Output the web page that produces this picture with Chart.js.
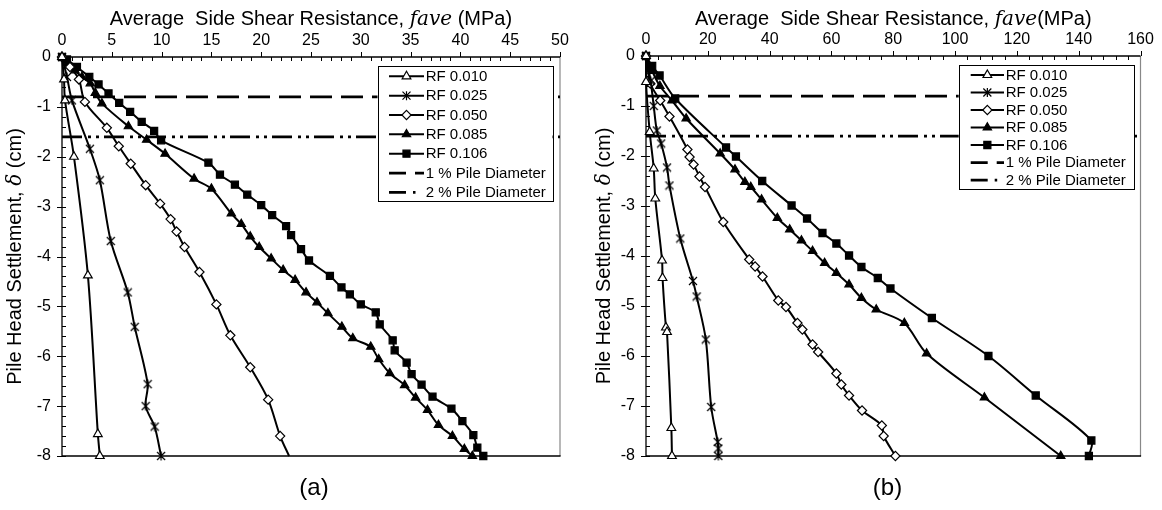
<!DOCTYPE html>
<html><head><meta charset="utf-8">
<script src="https://cdn.jsdelivr.net/npm/chart.js@4.4.1/dist/chart.umd.min.js"></script>
<style>
html,body{margin:0;padding:0;background:#fff;}
#wrap{position:relative;width:1162px;height:510px;overflow:hidden;background:#fff;}
canvas{position:absolute;top:0;}
</style></head><body>
<div id="wrap">
<canvas id="ca" width="580" height="510" style="left:0px"></canvas>
<canvas id="cb" width="582" height="510" style="left:580px"></canvas>
</div>
<script>
// ---------- DATA : chart (a) ----------
const rf010A_x = [0, 0.2, 0.3, 1.2, 2.6, 3.6, 3.8];
const rf010A_y = [0, -0.45, -0.87, -2.0, -4.38, -7.56, -8.0];
const rf025A_x = [0, 0.5, 1.0, 2.8, 3.8, 4.9, 6.6, 7.3, 8.6, 8.4, 9.3, 9.95];
const rf025A_y = [0, -0.4, -0.87, -1.84, -2.47, -3.69, -4.72, -5.41, -6.56, -7.0, -7.41, -8.0];
const rf050A_x = [0, 0.8, 1.7, 2.3, 4.5, 5.7, 6.9, 8.4, 9.85, 10.9, 11.5, 12.3, 13.8, 15.5, 16.9, 18.9, 20.7, 21.9, 22.8];
const rf050A_y = [0, -0.2, -0.45, -0.9, -1.42, -1.79, -2.14, -2.57, -2.94, -3.25, -3.5, -3.81, -4.31, -4.96, -5.58, -6.22, -6.87, -7.6, -8.0];
const rf085A_x = [0, 0.6, 1.3, 2.0, 2.84, 3.34, 4.0, 6.67, 8.5, 10.35, 13.26, 15.0, 17.0, 18.0, 18.9, 19.8, 21.0, 22.2, 23.4, 24.5, 25.6, 26.7, 28.1, 29.2, 31.0, 31.8, 32.9, 34.4, 35.5, 36.7, 37.8, 39.2, 40.4, 41.2];
const rf085A_y = [0, -0.12, -0.27, -0.4, -0.53, -0.72, -0.93, -1.39, -1.66, -1.94, -2.44, -2.64, -3.14, -3.35, -3.6, -3.81, -4.04, -4.27, -4.47, -4.72, -4.92, -5.14, -5.41, -5.64, -5.81, -6.06, -6.34, -6.58, -6.83, -7.08, -7.38, -7.6, -7.86, -8.0];
const rf106A_x = [0, 0.5, 1.5, 2.74, 3.67, 4.67, 5.74, 6.84, 8.0, 9.25, 9.95, 14.7, 15.86, 17.36, 18.6, 20.0, 21.1, 22.5, 23.0, 24.0, 24.8, 26.9, 28.06, 28.9, 30.0, 31.5, 31.9, 33.2, 33.4, 34.6, 35.1, 36.1, 37.2, 39.1, 40.2, 41.3, 41.7, 42.3];
const rf106A_y = [0, -0.05, -0.2, -0.4, -0.55, -0.73, -0.92, -1.1, -1.3, -1.48, -1.67, -2.12, -2.36, -2.56, -2.76, -2.97, -3.17, -3.39, -3.57, -3.85, -4.08, -4.39, -4.62, -4.76, -4.96, -5.12, -5.36, -5.68, -5.88, -6.13, -6.36, -6.57, -6.81, -7.05, -7.3, -7.58, -7.83, -8.0];

// ---------- DATA : chart (b) ----------
const rf010B_x = [0, 0, 1.2, 2.5, 3.0, 5.2, 5.35, 6.45, 6.8, 8.2, 8.4];
const rf010B_y = [0, -0.52, -1.52, -2.25, -2.85, -4.09, -4.44, -5.43, -5.52, -7.44, -8.0];
const rf025B_x = [0, 1.5, 2.5, 3.5, 4.9, 6.8, 7.6, 11.1, 15.2, 16.4, 19.35, 21.1, 23.2, 23.4, 23.4];
const rf025B_y = [0, -0.5, -1.0, -1.49, -1.75, -2.23, -2.59, -3.65, -4.5, -4.81, -5.67, -7.02, -7.72, -7.85, -8.0];
const rf050B_x = [0, 1.4, 4.6, 7.6, 13.4, 14.1, 15.4, 17.3, 19.1, 25.0, 33.4, 35.3, 37.7, 42.8, 45.3, 49.0, 50.6, 53.9, 55.7, 61.6, 63.2, 65.7, 69.9, 76.3, 76.9, 80.7];
const rf050B_y = [0, -0.55, -0.89, -1.21, -1.87, -2.02, -2.17, -2.41, -2.62, -3.32, -4.07, -4.21, -4.41, -4.89, -5.02, -5.34, -5.47, -5.77, -5.92, -6.35, -6.57, -6.79, -7.09, -7.39, -7.6, -8.0];
const rf085B_x = [0, 2, 4.5, 8.4, 13.0, 24.0, 28.8, 32.0, 33.9, 37.4, 42.5, 46.5, 50.3, 53.9, 57.8, 61.6, 65.7, 69.7, 74.5, 83.6, 90.8, 109.5, 134.2];
const rf085B_y = [0, -0.3, -0.6, -0.89, -1.25, -1.95, -2.27, -2.52, -2.62, -2.87, -3.24, -3.47, -3.69, -3.9, -4.14, -4.34, -4.57, -4.84, -5.07, -5.34, -5.95, -6.83, -8.0];
const rf106B_x = [0, 2, 4.4, 9.45, 25.9, 29.1, 37.6, 47.1, 52.1, 57.1, 61.6, 65.7, 69.7, 75.0, 79.1, 92.5, 110.8, 126.1, 144.1, 143.3];
const rf106B_y = [0, -0.2, -0.39, -0.85, -1.83, -2.01, -2.5, -2.99, -3.25, -3.54, -3.75, -3.99, -4.22, -4.44, -4.65, -5.24, -6.0, -6.79, -7.69, -8.0];

// ---------- labels / ticks ----------
const seriesNames = ['RF 0.010', 'RF 0.025', 'RF 0.050', 'RF 0.085', 'RF 0.106'];
const refLineNames = ['1 % Pile Diameter', '2 % Pile Diameter'];
const refLineDepths = [-0.8, -1.6];
const xTicksA = [0, 5, 10, 15, 20, 25, 30, 35, 40, 45, 50];
const xTicksB = [0, 20, 40, 60, 80, 100, 120, 140, 160];
const yTicks = [0, -1, -2, -3, -4, -5, -6, -7, -8];
const xTitleA = ['Average  Side Shear Resistance, ', 'fave', ' (MPa)'];
const xTitleB = ['Average  Side Shear Resistance, ', 'fave', '(MPa)'];
const yTitle = ['Pile Head Settlement, ', 'δ', ' (cm)'];
const panelLabels = ['(a)', '(b)'];

// ---------- styling ----------
const SANS = "'Liberation Sans', Arial, sans-serif";
const SERIF_IT = "'DejaVu Serif', 'Liberation Serif', serif";

function asteriskCanvas(size) {
  const c = document.createElement('canvas');
  c.width = size; c.height = size;
  const g = c.getContext('2d');
  g.strokeStyle = '#000'; g.lineWidth = 1.2;
  const a = 1, b = size - 1, m = size / 2;
  g.beginPath();
  g.moveTo(a, a); g.lineTo(b, b);
  g.moveTo(b, a); g.lineTo(a, b);
  g.moveTo(m, 0.5); g.lineTo(m, size - 0.5);
  g.stroke();
  return c;
}
const astImg = asteriskCanvas(10);

const markerStyles = [
  {kind: 'tri', ps: 'triangle', r: 5, fill: '#fff'},
  {kind: 'ast', ps: astImg, r: 5, fill: '#000'},
  {kind: 'dia', ps: 'rectRot', r: 4.6, fill: '#fff'},
  {kind: 'tri', ps: 'triangle', r: 4.8, fill: '#000'},
  {kind: 'sq', ps: 'rect', r: 5, fill: '#000'}
];
const refDashes = [[22, 9], [20, 6, 3, 5, 3, 5]];

function drawMarker(ctx, st, x, y) {
  ctx.save();
  ctx.lineWidth = 1.2; ctx.strokeStyle = '#000'; ctx.fillStyle = st.fill;
  const r = st.r;
  ctx.beginPath();
  if (st.kind === 'tri') {
    ctx.moveTo(x, y - r); ctx.lineTo(x + r * 0.866, y + r * 0.5); ctx.lineTo(x - r * 0.866, y + r * 0.5); ctx.closePath();
    ctx.fill(); ctx.stroke();
  } else if (st.kind === 'dia') {
    ctx.moveTo(x, y - r); ctx.lineTo(x + r, y); ctx.lineTo(x, y + r); ctx.lineTo(x - r, y); ctx.closePath();
    ctx.fill(); ctx.stroke();
  } else if (st.kind === 'sq') {
    const s = r * Math.SQRT1_2;
    ctx.rect(x - s, y - s, 2 * s, 2 * s); ctx.fill(); ctx.stroke();
  } else {
    const s = 4;
    ctx.moveTo(x - s, y - s); ctx.lineTo(x + s, y + s);
    ctx.moveTo(x + s, y - s); ctx.lineTo(x - s, y + s);
    ctx.moveTo(x, y - s - 0.5); ctx.lineTo(x, y + s + 0.5);
    ctx.stroke();
  }
  ctx.restore();
}

function drawRuns(ctx, parts, fonts, cx, cy) {
  let total = 0; const ws = [];
  parts.forEach((p, i) => { ctx.font = fonts[i]; const w = ctx.measureText(p).width; ws.push(w); total += w; });
  let x = cx - total / 2;
  ctx.textBaseline = 'alphabetic'; ctx.textAlign = 'left';
  parts.forEach((p, i) => { ctx.font = fonts[i]; ctx.fillText(p, x, cy); x += ws[i]; });
}

const decorPlugin = {
  id: 'decor',
  beforeDatasetsDraw(chart) {
    const o = chart.options.plugins.decor;
    const ctx = chart.ctx;
    const {left, right, top, bottom} = chart.chartArea;
    const xs = chart.scales.x, ys = chart.scales.y;
    ctx.save();
    ctx.strokeStyle = '#888'; ctx.lineWidth = 1.2;
    ctx.beginPath(); ctx.moveTo(right, top); ctx.lineTo(right, bottom); ctx.stroke();
    ctx.strokeStyle = '#000'; ctx.lineWidth = 1.3;
    ctx.beginPath();
    ctx.moveTo(left, top); ctx.lineTo(right, top);
    ctx.moveTo(left, top); ctx.lineTo(left, bottom);
    ctx.moveTo(left, bottom); ctx.lineTo(right + 0.6, bottom);
    ctx.stroke();
    ctx.lineWidth = 1;
    ctx.beginPath();
    const nX = Math.round((o.xMax - o.xMin) / o.xMinor);
    for (let i = 0; i <= nX; i++) {
      const v = o.xMin + i * o.xMinor;
      const px = Math.round(xs.getPixelForValue(v)) + 0.5;
      if (i % o.xPerMajor === 0) { ctx.moveTo(px, top - 5); ctx.lineTo(px, top); }
      else { ctx.moveTo(px, top); ctx.lineTo(px, top + 4); }
    }
    const nY = 40;
    for (let i = 0; i <= nY; i++) {
      const v = -i * 0.2;
      const py = Math.round(ys.getPixelForValue(v)) + 0.5;
      if (i % 5 === 0) { ctx.moveTo(left - 5, py); ctx.lineTo(left + 4, py); }
      else { ctx.moveTo(left, py); ctx.lineTo(left + 4, py); }
    }
    ctx.stroke();
    ctx.restore();
  },
  afterDraw(chart) {
    const o = chart.options.plugins.decor;
    const ctx = chart.ctx;
    const {left, right, top, bottom} = chart.chartArea;
    ctx.save();
    ctx.fillStyle = '#000';
    drawRuns(ctx, o.xTitle, ['20px ' + SANS, 'italic 20px ' + SERIF_IT, '20px ' + SANS], (left + right) / 2, 25);
    ctx.save();
    ctx.translate(o.yTitleX, (top + bottom) / 2);
    ctx.rotate(-Math.PI / 2);
    drawRuns(ctx, yTitle, ['20px ' + SANS, 'italic 20px ' + SERIF_IT, '20px ' + SANS], 0, 7);
    ctx.restore();
    ctx.font = '24px ' + SANS; ctx.textAlign = 'center'; ctx.textBaseline = 'middle';
    ctx.fillText(o.panel, o.panelX, 488);
    const L = o.legend;
    ctx.fillStyle = '#fff';
    ctx.fillRect(L.x0, L.y0, L.x1 - L.x0, L.y1 - L.y0);
    ctx.strokeStyle = '#000'; ctx.lineWidth = 1;
    ctx.strokeRect(Math.round(L.x0) + 0.5, Math.round(L.y0) + 0.5, Math.round(L.x1 - L.x0), Math.round(L.y1 - L.y0));
    const names = seriesNames.concat(refLineNames);
    ctx.font = '15px ' + SANS; ctx.textAlign = 'left'; ctx.textBaseline = 'middle';
    names.forEach((nm, i) => {
      const y = L.row0 + i * L.rowH;
      ctx.strokeStyle = '#000'; ctx.setLineDash([]);
      if (i < 5) {
        ctx.lineWidth = 2;
        ctx.beginPath(); ctx.moveTo(L.sx0, y); ctx.lineTo(L.sx1, y); ctx.stroke();
        drawMarker(ctx, markerStyles[i], (L.sx0 + L.sx1) / 2, y);
      } else if (i === 5) {
        ctx.lineWidth = 2.75;
        ctx.beginPath(); ctx.moveTo(L.sx0, y); ctx.lineTo(L.sx0 + 17, y);
        ctx.moveTo(L.sx0 + 26, y); ctx.lineTo(L.sx1, y); ctx.stroke();
      } else {
        ctx.lineWidth = 2.75;
        ctx.beginPath(); ctx.moveTo(L.sx0, y); ctx.lineTo(L.sx0 + 17, y);
        ctx.moveTo(L.sx0 + 24, y); ctx.lineTo(L.sx0 + 26.5, y); ctx.stroke();
      }
      ctx.fillStyle = '#000';
      ctx.fillText(nm, L.tx, y + 0.5);
    });
    ctx.restore();
  }
};

function mkChart(id, cfg) {
  const datasets = [];
  cfg.series.forEach((s, i) => {
    const st = markerStyles[i];
    const n = s.x.length;
    datasets.push({
      label: seriesNames[i],
      data: s.x.map((x, j) => ({x: x, y: s.y[j]})),
      showLine: true, borderColor: '#000', borderWidth: 2, tension: 0.3,
      pointStyle: st.ps,
      pointRadius: (c) => (s.hideLast && c.dataIndex === n - 1) ? 0 : st.r,
      pointBackgroundColor: st.fill, pointBorderColor: '#000', pointBorderWidth: 1.2,
      clip: false, order: 1
    });
  });
  refLineDepths.forEach((d, i) => {
    datasets.push({
      label: refLineNames[i],
      data: [{x: cfg.xMin, y: d}, {x: cfg.xMax, y: d}],
      showLine: true, borderColor: '#000', borderWidth: 2.75, borderDash: refDashes[i],
      pointRadius: 0, tension: 0, order: 5
    });
  });
  return new Chart(document.getElementById(id), {
    type: 'scatter',
    data: {datasets: datasets},
    options: {
      responsive: false, animation: false, devicePixelRatio: 1,
      layout: {padding: cfg.padding},
      plugins: {
        legend: {display: false}, tooltip: {enabled: false}, title: {display: false},
        decor: cfg.decor
      },
      scales: {
        x: {
          type: 'linear', position: 'top', min: cfg.xMin, max: cfg.xMax,
          afterBuildTicks: (sc) => { sc.ticks = cfg.xTicks.map(v => ({value: v})); },
          afterFit: (sc) => { sc.height = cfg.xAxisH; },
          grid: {display: false, drawTicks: false}, border: {display: false},
          ticks: {padding: 7, color: '#000', font: {family: SANS, size: 16}, maxRotation: 0, autoSkip: false,
                  callback: (v) => String(v)}
        },
        y: {
          type: 'linear', position: 'left', min: -8, max: 0,
          afterBuildTicks: (sc) => { sc.ticks = yTicks.map(v => ({value: v})); },
          afterFit: (sc) => { sc.width = cfg.yAxisW; },
          grid: {display: false, drawTicks: false}, border: {display: false},
          ticks: {padding: 11, color: '#000', font: {family: SANS, size: 16}, autoSkip: false,
                  callback: (v) => String(v)}
        }
      }
    },
    plugins: [decorPlugin]
  });
}

mkChart('ca', {
  xMin: 0, xMax: 50, xTicks: xTicksA, xAxisH: 57, yAxisW: 62,
  padding: {left: 0, top: 0, right: 20, bottom: 54},
  series: [
    {x: rf010A_x, y: rf010A_y}, {x: rf025A_x, y: rf025A_y}, {x: rf050A_x, y: rf050A_y, hideLast: true},
    {x: rf085A_x, y: rf085A_y}, {x: rf106A_x, y: rf106A_y}
  ],
  decor: {
    xMin: 0, xMax: 50, xMinor: 1, xPerMajor: 5, xTitle: xTitleA, yTitleX: 14,
    panel: panelLabels[0], panelX: 314,
    legend: {x0: 377.5, y0: 66, x1: 552.5, y1: 201, row0: 76.3, rowH: 19.35, sx0: 389, sx1: 424, tx: 425.7}
  }
});
mkChart('cb', {
  xMin: 0, xMax: 160, xTicks: xTicksB, xAxisH: 56, yAxisW: 66,
  padding: {left: 0, top: 0, right: 21.5, bottom: 54},
  series: [
    {x: rf010B_x, y: rf010B_y}, {x: rf025B_x, y: rf025B_y}, {x: rf050B_x, y: rf050B_y},
    {x: rf085B_x, y: rf085B_y}, {x: rf106B_x, y: rf106B_y}
  ],
  decor: {
    xMin: 0, xMax: 160, xMinor: 4, xPerMajor: 5, xTitle: xTitleB, yTitleX: 23,
    panel: panelLabels[1], panelX: 307.5,
    legend: {x0: 378.7, y0: 65, x1: 554, y1: 188.7, row0: 75, rowH: 17.5, sx0: 390.7, sx1: 424, tx: 425.7}
  }
});
</script>
</body></html>
